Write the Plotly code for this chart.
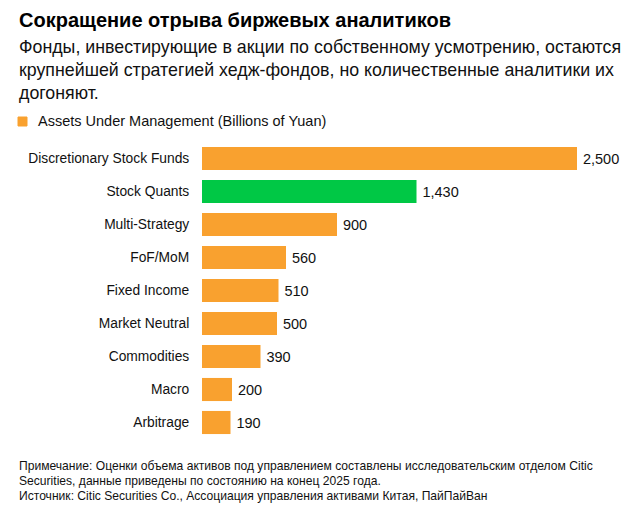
import plotly.graph_objects as go

categories = ["Discretionary Stock Funds", "Stock Quants", "Multi-Strategy", "FoF/MoM",
              "Fixed Income", "Market Neutral", "Commodities", "Macro", "Arbitrage"]
values = [2500, 1430, 900, 560, 510, 500, 390, 200, 190]
ORANGE = "#F9A12F"
GREEN = "#00C845"
colors = [GREEN if c == "Stock Quants" else ORANGE for c in categories]

title = "Сокращение отрыва биржевых аналитиков"
subtitle = ["Фонды, инвестирующие в акции по собственному усмотрению, остаются",
            "крупнейшей стратегией хедж-фондов, но количественные аналитики их",
            "догоняют."]
legend_name = "Assets Under Management (Billions of Yuan)"
notes = ["Примечание: Оценки объема активов под управлением составлены исследовательским отделом Citic",
         "Securities, данные приведены по состоянию на конец 2025 года.",
         "Источник: Citic Securities Co., Ассоциация управления активами Китая, ПайПайВан"]

FONT = "Liberation Sans, Arial, sans-serif"
W, H = 643, 517
ML, MR, MT, MB = 202, 23, 142, 78
PW, PH = W - ML - MR, H - MT - MB

def px(x):
    return (x - ML) / PW

def py(y):
    return (H - MB - y) / PH

fig = go.Figure()
fig.add_trace(go.Bar(
    y=categories, x=values, orientation="h",
    marker=dict(color=colors, line=dict(width=0)),
    text=[f"\u2009{v:,}" for v in values], textposition="outside",
    textfont=dict(size=14.5, color="#111111", family=FONT),
    cliponaxis=False, name=legend_name, showlegend=False,
))

ann = []
ann.append(dict(text=f"<b>{title}</b>", x=px(17), y=py(20), xref="paper", yref="paper",
                xanchor="left", yanchor="middle", showarrow=False,
                font=dict(size=20, color="#000000", family=FONT)))
for i, line in enumerate(subtitle):
    ann.append(dict(text=line, x=px(17), y=py(47 + 23 * i), xref="paper", yref="paper",
                    xanchor="left", yanchor="middle", showarrow=False,
                    font=dict(size=17.8, color="#111111", family=FONT)))
ann.append(dict(text=legend_name, x=px(36), y=py(121), xref="paper", yref="paper",
                xanchor="left", yanchor="middle", showarrow=False,
                font=dict(size=14.5, color="#111111", family=FONT)))
for i, line in enumerate(notes):
    ann.append(dict(text=line, x=px(17), y=py(466 + 15 * i), xref="paper", yref="paper",
                    xanchor="left", yanchor="middle", showarrow=False,
                    font=dict(size=12.1, color="#111111", family=FONT)))

shapes = [dict(type="rect", xref="paper", yref="paper",
               x0=px(18), x1=px(27), y0=py(126), y1=py(117),
               fillcolor=ORANGE, line=dict(color=ORANGE, width=1))]

fig.update_layout(
    width=W, height=H,
    margin=dict(l=ML, r=MR, t=MT, b=MB),
    paper_bgcolor="white", plot_bgcolor="white",
    bargap=0.3,
    font=dict(family=FONT, color="#111111"),
    annotations=ann, shapes=shapes,
    showlegend=False,
    xaxis=dict(range=[0, 2500 * PW / 375], visible=False, fixedrange=True),
    yaxis=dict(autorange="reversed", showgrid=False, showline=False, zeroline=False,
               ticks="outside", ticklen=9, tickcolor="rgba(0,0,0,0)",
               tickfont=dict(size=13.8, color="#111111", family=FONT)),
)

fig.write_html("out.html")
